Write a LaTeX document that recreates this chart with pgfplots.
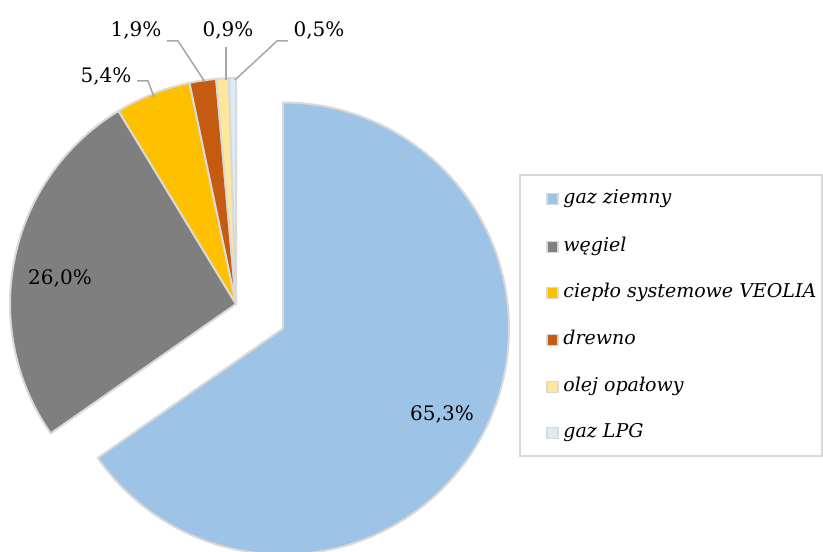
\documentclass[border=0pt]{standalone}
\usepackage{pgfplots}
\pgfplotsset{compat=1.18}
\usepackage{fontspec}
\setmainfont{DejaVu Serif}

\definecolor{cGaz}{HTML}{9DC3E6}
\definecolor{cWeg}{HTML}{7F7F7F}
\definecolor{cCie}{HTML}{FFC000}
\definecolor{cDre}{HTML}{C55A11}
\definecolor{cOle}{HTML}{FFE699}
\definecolor{cLpg}{HTML}{DEEBF7}
\definecolor{edge}{HTML}{D9D9D9}
\definecolor{lead}{HTML}{A6A6A6}

% #1 centre, #2 cumulative start (%), #3 share (%), #4 colour
\newcommand\slice[4]{%
  \pgfmathsetmacro\sa{90-3.6*#2}%
  \pgfmathsetmacro\se{90-3.6*(#2+#3)}%
  \filldraw[fill=#4, draw=edge, line width=1pt, line join=round]
    (#1) -- +(\sa:113pt) arc[start angle=\sa, end angle=\se, radius=113pt] -- cycle;
}
% legend row: #1 y, #2 colour, #3 text
\newcommand\legrow[3]{%
  \filldraw[fill=#2, draw=edge, line width=0.8pt] (axis cs:547,#1-5.5) rectangle (axis cs:558,#1+5.5);
  \node[anchor=base west, inner sep=0pt, font=\fontsize{9.5}{11}\selectfont\itshape] at (axis cs:563,#1-5) {#3};
}

\begin{document}
\begin{tikzpicture}
\useasboundingbox (0,0) rectangle (411.5pt,275.5pt);
\clip (0,0) rectangle (411.5pt,275.5pt);
\begin{axis}[
    x=0.5pt, y=0.5pt,
    xmin=0, xmax=823, ymin=0, ymax=551,
    scale only axis, hide axis, clip=false,
    font=\fontsize{10}{12}\selectfont
]
\pgfplotsextra{
  % pie (gaz ziemny pulled out)
  \slice{axis cs:283,222.5}{0}{65.3}{cGaz}
  \slice{axis cs:236,247}{65.3}{26.0}{cWeg}
  \slice{axis cs:236,247}{91.3}{5.4}{cCie}
  \slice{axis cs:236,247}{96.7}{1.9}{cDre}
  \slice{axis cs:236,247}{98.6}{0.9}{cOle}
  \slice{axis cs:236,247}{99.5}{0.5}{cLpg}

  % data labels
  \node[anchor=base, inner sep=0pt] at (axis cs:442,130) {65,3\%};
  \node[anchor=base, inner sep=0pt] at (axis cs:60,266) {26,0\%};
  \node[anchor=base, inner sep=0pt] at (axis cs:106,468) {5,4\%};
  \node[anchor=base, inner sep=0pt] at (axis cs:136,514) {1,9\%};
  \node[anchor=base, inner sep=0pt] at (axis cs:228,514) {0,9\%};
  \node[anchor=base, inner sep=0pt] at (axis cs:319,514) {0,5\%};

  % leader lines
  \draw[lead, line width=0.75pt] (axis cs:137,470) -- (axis cs:148,470) -- (axis cs:154,454);
  \draw[lead, line width=0.75pt] (axis cs:167,510) -- (axis cs:178,510) -- (axis cs:205,469);
  \draw[lead, line width=0.75pt] (axis cs:226,504) -- (axis cs:226,471);
  \draw[lead, line width=0.75pt] (axis cs:288,510) -- (axis cs:277,510) -- (axis cs:235,471);

  % legend
  \draw[edge, line width=0.9pt] (axis cs:520,376) rectangle (axis cs:822,95);
  \legrow{352}{cGaz}{gaz ziemny}
  \legrow{304}{cWeg}{węgiel}
  \legrow{258}{cCie}{ciepło systemowe VEOLIA}
  \legrow{211}{cDre}{drewno}
  \legrow{164}{cOle}{olej opałowy}
  \legrow{118}{cLpg}{gaz LPG}
}
\end{axis}
\end{tikzpicture}
\end{document}
